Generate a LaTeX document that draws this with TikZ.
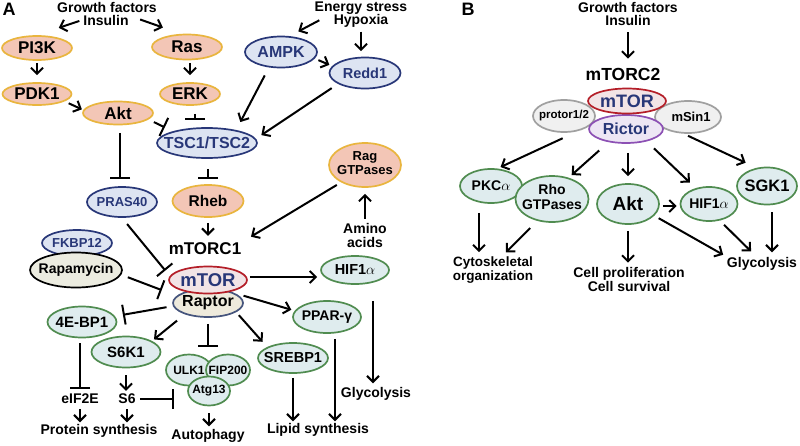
\documentclass[tikz,border=0pt]{standalone}
\usepackage{fontspec}
\setmainfont{Liberation Sans}
\usetikzlibrary{shapes.geometric,arrows.meta}
\newcommand\fsz[2]{\fontsize{#1}{#2}\selectfont}
\newcommand\zw[1]{\makebox[0pt]{#1}}
\newcommand\twol[2]{\makebox[0pt]{\begin{tabular}{@{}c@{}}#1\\#2\end{tabular}}}
\definecolor{orf}{RGB}{243,198,182}
\definecolor{ord}{RGB}{233,181,62}
\definecolor{blf}{RGB}{221,228,242}
\definecolor{bld}{RGB}{40,55,120}
\definecolor{grf}{RGB}{223,236,238}
\definecolor{grd}{RGB}{80,140,80}
\definecolor{mtf}{RGB}{242,228,230}
\definecolor{mtd}{RGB}{180,30,40}
\definecolor{rpf}{RGB}{238,234,220}
\definecolor{rpd}{RGB}{70,85,125}
\definecolor{raf}{RGB}{236,236,224}
\definecolor{gyf}{RGB}{240,240,240}
\definecolor{gyd}{RGB}{160,160,160}
\definecolor{rif}{RGB}{237,230,244}
\definecolor{rid}{RGB}{140,80,180}
\tikzset{
  f/.style={font=\bfseries\fsz{#1}{#1}},
  sz/.style n args={2}{minimum width=#1pt,minimum height=#2pt},
  ell/.style={ellipse, inner sep=0pt, line width=1.7pt, f=15},
  orn/.style={ell, fill=orf, draw=ord},
  bln/.style={ell, fill=blf, draw=bld, text=bld},
  grn/.style={ell, fill=grf, draw=grd},
  lbl/.style={inner sep=1pt, align=center, f=14},
  arr/.style={line width=2pt, -{Straight Barb[length=6pt,width=12pt]}},
  inh/.style={line width=2pt, -{Bar[width=20pt]}},
}
\begin{document}
\begin{tikzpicture}[x=1pt,y=-1pt]
\useasboundingbox[fill=white] (0,0) rectangle (800,445);
% ---------- Panel A ----------
\node[lbl, f=18] (labA) at (9,9) {A};
\node[lbl] (gfA) at (107,7) {Growth factors};
\node[lbl] (insA) at (106,20) {Insulin};
\node[lbl] (esA) at (361,8) {Energy stress};
\node[lbl] (hypA) at (361,21) {Hypoxia};
\node[orn, sz={70}{24}, f=17] (pi3k) at (37,48) {\zw{PI3K}};
\node[orn, sz={70}{25}, f=17] (ras) at (187,47) {\zw{Ras}};
\node[orn, sz={69}{22}, f=17] (pdk1) at (37,94) {\zw{PDK1}};
\node[orn, sz={70}{23}, f=17] (akt) at (118,113) {\zw{Akt}};
\node[orn, sz={60}{22}, f=17] (erk) at (190,94) {\zw{ERK}};
\node[bln, sz={100}{30}, f=16] (tsc) at (207,143) {\zw{TSC1/TSC2}};
\node[bln, sz={72}{31}, f=16] (ampk) at (281,52) {\zw{AMPK}};
\node[bln, sz={71}{31}, f=14.5] (redd1) at (365,73) {\zw{Redd1}};
\node[bln, sz={70}{30}, f=13] (pras40) at (122,202) {\zw{PRAS40}};
\node[orn, sz={71}{32}, f=15.5] (rheb) at (208,201) {\zw{Rheb}};
\node[orn, sz={72}{44}, font=\bfseries\fsz{13}{14}] (rag) at (365,165) {\twol{Rag}{GTPases}};
\node[lbl, font=\bfseries\fsz{14}{14}] (aminoA) at (365,235) {Amino\\acids};
\node[lbl, f=17] (mtorc1) at (205,249) {mTORC1};
\node[bln, sz={70}{26}, f=13] (fkbp) at (77,243) {\zw{FKBP12}};
\node[ell, sz={92}{35}, f=14, fill=raf, draw=black] (rapa) at (76,270) {\zw{Rapamycin}};
\node[ell, sz={70}{28}, f=16, fill=rpf, draw=rpd] (raptor) at (208,303) {\zw{Raptor}};
\node[ell, sz={78}{27}, f=18.5, fill=mtf, draw=mtd, text=bld] (mtorA) at (208,280) {\zw{mTOR}};
\node[grn, sz={68}{28}, f=14.5] (hifA) at (355,270) {\zw{HIF1$\alpha$}};
\node[grn, sz={68}{32}, f=14] (ppar) at (327,317) {\zw{PPAR-γ}};
\node[grn, sz={70}{30}, f=14.5] (srebp) at (293,358) {\zw{SREBP1}};
\node[grn, sz={69}{31}, f=15] (bp1) at (82,322) {\zw{4E-BP1}};
\node[grn, sz={69}{31}, f=15] (s6k1) at (126,352) {\zw{S6K1}};
\node[grn, sz={46}{31}, f=12] (ulk1) at (189,370) {\zw{ULK1}};
\node[grn, sz={44}{31}, f=12] (fip) at (228,370) {\zw{FIP200}};
\node[grn, sz={42}{29}, f=12] (atg) at (209,391) {\zw{Atg13}};
\node[lbl] (eif) at (80,399) {eIF2E};
\node[lbl] (s6) at (127,399) {S6};
\node[lbl] (prot) at (99,431) {Protein synthesis};
\node[lbl] (autoph) at (208,436) {Autophagy};
\node[lbl] (lipid) at (318,430) {Lipid synthesis};
\node[lbl] (glyA) at (376,394) {Glycolysis};
% connectors A
\draw[arr, shorten <=3pt, shorten >=23pt] (insA.west) -- (pi3k.north);
\draw[arr, shorten <=11pt, shorten >=19pt] (insA.10) -- (ras.115);
\draw[arr, shorten <=2pt, shorten >=7pt] (pi3k.south) -- (pdk1.north);
\draw[arr, shorten <=4.5pt, shorten >=1.5pt] (pdk1.-15) -- (akt.175);
\draw[arr, shorten <=2.5pt, shorten >=7pt] (ras.south -| erk.north) -- (erk.north);
\draw[inh, shorten <=8pt, shorten >=7pt] ([xshift=5pt]erk.south) -- ([xshift=5pt]erk.south |- tsc.north);
\draw[inh, shorten <=6pt, shorten >=9pt] (akt.-12) -- (tsc.161);
\draw[inh, shorten <=7.5pt, shorten >=7pt] ([xshift=2pt]akt.south) -- ([xshift=2pt]akt.south |- pras40.north);
\draw[arr, shorten <=15pt, shorten >=10pt] (hypA.north west) -- (ampk.62);
\draw[arr, shorten <=3pt, shorten >=5.5pt] (hypA.south) -- (hypA.south |- redd1.north);
\draw[arr, shorten <=4pt, shorten >=3pt] (ampk.-11) -- (redd1.168);
\draw[arr, shorten <=9pt, shorten >=9pt] (ampk.232) -- (tsc.24);
\draw[arr, shorten <=7.5pt, shorten >=6.5pt] (redd1.202) -- (tsc.5);
\draw[inh, shorten <=10pt, shorten >=5pt] ([xshift=1pt]tsc.south) -- ([xshift=1pt]tsc.south |- rheb.north);
\draw[arr, shorten <=5pt, shorten >=6pt] (rheb.south) -- (rheb.south |- mtorc1.north);
\draw[arr, shorten <=5pt, shorten >=10pt] (rag.216) -- (mtorc1.north east);
\draw[arr, shorten <=3pt, shorten >=6pt] (aminoA.north) -- (rag.south);
\draw[inh, shorten <=8pt, shorten >=7pt] (pras40.south) -- (mtorA.174);
\draw[inh, shorten <=7pt, shorten >=16pt] (rapa.-6) -- (raptor.167);
\draw[arr, shorten <=2pt, shorten >=3pt] ([yshift=3pt]mtorA.east) -- ([yshift=3pt]mtorA.east -| hifA.west);
\draw[arr, shorten <=9pt, shorten >=3.5pt] (raptor.20) -- (ppar.169);
\draw[arr, shorten <=4pt, shorten >=7pt] (raptor.-18) -- (srebp.157);
\draw[inh, shorten <=6.5pt, shorten >=8pt] (raptor.185) -- (bp1.10);
\draw[arr, shorten <=10pt, shorten >=2.5pt] (raptor.206) -- (s6k1.23);
\draw[inh, shorten <=6pt, shorten >=7pt] (raptor.south) -- (raptor.south |- fip.north);
\draw[inh, shorten <=5pt, shorten >=4pt] ([xshift=-2pt]bp1.south) -- ([xshift=-2pt]bp1.south |- eif.north);
\draw[arr, shorten <=4pt, shorten >=1pt] (eif.south) -- (eif.south |- prot.north);
\draw[arr, shorten <=7pt, shorten >=2pt] (s6k1.south) -- (s6k1.south |- s6.north);
\draw[arr, shorten <=4pt, shorten >=1pt] (s6.south) -- (s6.south |- prot.north);
\draw[inh, shorten <=3pt, shorten >=13pt] (s6.east) -- (s6.east -| atg.west);
\draw[arr, shorten <=7pt, shorten >=2pt] (atg.south) -- (atg.south |- autoph.north);
\draw[arr, shorten <=4pt, shorten >=1pt] (srebp.south) -- (srebp.south |- lipid.north);
\draw[arr, shorten <=5pt, shorten >=1pt] ([xshift=8pt]ppar.south) -- ([xshift=8pt]ppar.south |- lipid.north);
\draw[arr, shorten <=16pt, shorten >=3pt] ([xshift=18pt]hifA.south) -- ([xshift=18pt]hifA.south |- glyA.north);
% ---------- Panel B ----------
\node[lbl, f=18] (labB) at (468,9) {B};
\node[lbl] (gfB) at (628,7) {Growth factors};
\node[lbl] (insB) at (628,20) {Insulin};
\node[lbl, f=17.5] (mtorc2) at (623,74) {mTORC2};
\node[ell, sz={62}{32}, f=11.5, fill=gyf, draw=gyd] (protor) at (564,116) {\zw{protor1/2}};
\node[ell, sz={66}{32}, f=13, fill=gyf, draw=gyd] (msin) at (688,117) {\zw{\hspace*{6pt}mSin1}};
\node[ell, sz={74}{28}, f=16, fill=rif, draw=rid, text=bld] (rictor) at (626,129) {\zw{Rictor}};
\node[ell, sz={78}{25}, f=18, fill=mtf, draw=mtd, text=bld] (mtorB) at (627,101) {\zw{mTOR}};
\node[grn, sz={62}{34}, f=14] (pkc) at (491,186) {\zw{PKC$\alpha$}};
\node[grn, sz={73}{46}, font=\bfseries\fsz{14}{15}] (rho) at (552,199) {\twol{Rho}{GTPases}};
\node[grn, sz={62}{40}, f=19] (aktB) at (628,204) {\zw{Akt}};
\node[grn, sz={57}{34}, f=14] (hifB) at (709,204) {\zw{HIF1$\alpha$}};
\node[grn, sz={60}{37}, f=16.5] (sgk) at (767,186) {\zw{SGK1}};
\node[lbl, font=\bfseries\fsz{13.5}{14.5}] (cyto) at (493,270) {Cytoskeletal\\organization};
\node[lbl, font=\bfseries\fsz{14}{14}] (cell) at (629,279) {Cell proliferation\\Cell survival};
\node[lbl] (glyB) at (762,264) {Glycolysis};
% connectors B
\draw[arr, shorten <=6pt, shorten >=8pt] (insB.south) -- (insB.south |- mtorc2.north);
\draw[arr, shorten <=17pt, shorten >=3.5pt] (protor.-47) -- (pkc.70);
\draw[arr, shorten <=12.5pt, shorten >=4pt] (rictor.217) -- (rho.52);
\draw[arr, shorten <=9pt, shorten >=7pt] ([xshift=2pt]rictor.south) -- ([xshift=2pt]rictor.south |- aktB.north);
\draw[arr, shorten <=10pt, shorten >=8pt] (rictor.-31) -- (hifB.130);
\draw[arr, shorten <=5pt, shorten >=12pt] (msin.-105) -- (sgk.120);
\draw[arr, shorten <=3pt, shorten >=3pt] ([yshift=-2pt]aktB.east) -- ([yshift=-2pt]aktB.east -| hifB.west);
\draw[arr, shorten <=9pt, shorten >=3pt] ([xshift=-12pt]pkc.south) -- ([xshift=-12pt]pkc.south |- cyto.north);
\draw[arr, shorten <=10pt, shorten >=4pt] (rho.236) -- ([xshift=10pt]cyto.north);
\draw[arr, shorten <=6pt, shorten >=3pt] (aktB.south) -- (aktB.south |- cell.north);
\draw[arr, shorten <=5pt, shorten >=3pt] (aktB.-24) -- (glyB.north west);
\draw[arr, shorten <=6pt, shorten >=7pt] (hifB.-57) -- ([xshift=-6pt]glyB.north);
\draw[arr, shorten <=7pt, shorten >=4pt] ([xshift=5pt]sgk.south) -- ([xshift=5pt]sgk.south |- glyB.north);
\end{tikzpicture}
\end{document}
